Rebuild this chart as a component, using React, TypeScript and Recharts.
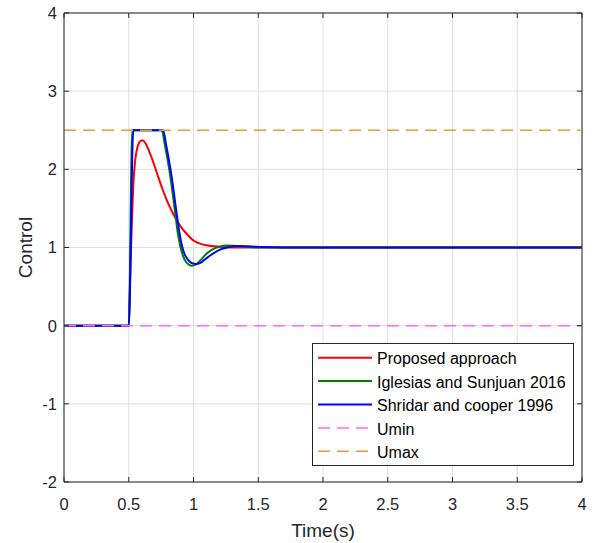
import React from 'react';
import {
  LineChart,
  Line,
  XAxis,
  YAxis,
  CartesianGrid,
  ReferenceLine
} from 'recharts';

// values
const timeTicks = [0, 0.5, 1, 1.5, 2, 2.5, 3, 3.5, 4];
const controlTicks = [-2, -1, 0, 1, 2, 3, 4];

const proposedTime = [0, 0.5, 0.51, 0.52, 0.53, 0.54, 0.55, 0.565, 0.58, 0.595, 0.61, 0.63, 0.66, 0.7, 0.73, 0.76, 0.8, 0.85, 0.9, 0.95, 1.0, 1.05, 1.1, 1.2, 1.3, 4];
const proposedControl = [0, 0, 0.55, 1.1, 1.6, 1.93, 2.12, 2.27, 2.34, 2.37, 2.37, 2.33, 2.22, 2.04, 1.89, 1.75, 1.58, 1.41, 1.27, 1.17, 1.09, 1.05, 1.03, 1.01, 1.0, 1.0];

const iglesiasTime = [0, 0.5, 0.527, 0.755, 0.78, 0.8, 0.82, 0.84, 0.86, 0.88, 0.9, 0.92, 0.94, 0.96, 0.986, 1.01, 1.05, 1.1, 1.15, 1.2, 1.26, 1.32, 1.4, 1.5, 1.6, 4];
const iglesiasControl = [0, 0, 2.5, 2.5, 2.3, 2.12, 1.92, 1.68, 1.42, 1.17, 1.0, 0.89, 0.82, 0.785, 0.767, 0.775, 0.83, 0.92, 0.98, 1.01, 1.025, 1.02, 1.01, 1.0, 1.0, 1.0];

const shridarTime = [0, 0.5, 0.535, 0.765, 0.79, 0.81, 0.83, 0.85, 0.87, 0.89, 0.91, 0.93, 0.95, 0.97, 0.995, 1.02, 1.05, 1.09, 1.14, 1.2, 1.26, 1.33, 1.42, 1.55, 1.7, 4];
const shridarControl = [0, 0, 2.5, 2.5, 2.3, 2.12, 1.92, 1.68, 1.43, 1.2, 1.03, 0.92, 0.86, 0.82, 0.795, 0.79, 0.8, 0.85, 0.91, 0.97, 1.0, 1.02, 1.015, 1.005, 1.0, 1.0];

const boundTime = [0, 4];
const uMin = 0;
const uMax = 2.5;

const zip = (t: number[], u: number[]) => t.map((v, i) => ({ t: v, u: u[i] }));

const series = [
  { name: 'Proposed approach', data: zip(proposedTime, proposedControl), color: '#ff0000', dash: undefined, width: 2 },
  { name: 'Iglesias and Sunjuan 2016', data: zip(iglesiasTime, iglesiasControl), color: '#008000', dash: undefined, width: 2 },
  { name: 'Shridar and cooper 1996', data: zip(shridarTime, shridarControl), color: '#0000ff', dash: undefined, width: 2 },
  { name: 'Umin', data: boundTime.map((t) => ({ t, u: uMin })), color: '#ff66ff', dash: '12 7', width: 1.5 },
  { name: 'Umax', data: boundTime.map((t) => ({ t, u: uMax })), color: '#e59a3f', dash: '12 7', width: 1.5 }
];

const W = 601;
const H = 543;
const P = { left: 64, top: 13, right: 582, bottom: 482 };
const INK = '#262626';
const FONT = '"Liberation Sans", Arial, Helvetica, sans-serif';

const XTick = (props: any) => {
  const { x, payload } = props;
  return (
    <g>
      <line x1={x} x2={x} y1={P.bottom} y2={P.bottom - 5} stroke={INK} />
      <line x1={x} x2={x} y1={P.top} y2={P.top + 5} stroke={INK} />
      <text x={x} y={509.5} textAnchor="middle" fontSize={16.5} fill={INK} fontFamily={FONT}>
        {payload.value}
      </text>
    </g>
  );
};

const YTick = (props: any) => {
  const { y, payload } = props;
  return (
    <g>
      <line x1={P.left} x2={P.left + 5} y1={y} y2={y} stroke={INK} />
      <line x1={P.right} x2={P.right - 5} y1={y} y2={y} stroke={INK} />
      <text x={57} y={y} dy="0.36em" textAnchor="end" fontSize={16.5} fill={INK} fontFamily={FONT}>
        {payload.value}
      </text>
    </g>
  );
};

const LegendBox = () => (
  <svg
    width={262}
    height={123}
    style={{ position: 'absolute', left: 312, top: 343 }}
  >
    <rect x={0.5} y={0.5} width={261} height={122} fill="#fff" stroke={INK} />
    {series.map((s, i) => {
      const cy = 14.7 + i * 23.4;
      return (
        <g key={s.name}>
          <line x1={6} x2={60} y1={cy} y2={cy} stroke={s.color} strokeWidth={s.width} strokeDasharray={s.dash} />
          <text x={65} y={cy + 6.6} fontSize={16} fill="#000" fontFamily={FONT}>
            {s.name}
          </text>
        </g>
      );
    })}
  </svg>
);

export default function App() {
  return (
    <div style={{ position: 'absolute', left: 0, top: 0, width: W, height: H, background: '#fff', fontFamily: FONT }}>
      <LineChart width={W} height={H} margin={{ top: P.top, right: W - P.right, bottom: 0, left: 0 }}>
        <CartesianGrid stroke="#dfdfdf" />
        <XAxis
          type="number"
          dataKey="t"
          domain={[0, 4]}
          ticks={timeTicks}
          height={H - P.bottom}
          tickSize={0}
          tickLine={false}
          axisLine={{ stroke: INK }}
          tick={<XTick />}
          interval={0}
          label={() => (
            <text x={(P.left + P.right) / 2} y={536.5} textAnchor="middle" fontSize={19} fill={INK} fontFamily={FONT}>
              Time(s)
            </text>
          )}
        />
        <YAxis
          type="number"
          domain={[-2, 4]}
          ticks={controlTicks}
          width={P.left}
          tickSize={0}
          tickLine={false}
          axisLine={{ stroke: INK }}
          tick={<YTick />}
          interval={0}
          label={() => (
            <text
              x={31.5}
              y={(P.top + P.bottom) / 2}
              textAnchor="middle"
              fontSize={19}
              fill={INK}
              fontFamily={FONT}
              transform={`rotate(-90, 31.5, ${(P.top + P.bottom) / 2})`}
            >
              Control
            </text>
          )}
        />
        <ReferenceLine y={4} stroke={INK} />
        <ReferenceLine x={4} stroke={INK} />
        {series.map((s) => (
          <Line
            key={s.name}
            data={s.data}
            dataKey="u"
            name={s.name}
            type={s.dash ? 'linear' : 'monotone'}
            stroke={s.color}
            strokeWidth={s.width}
            strokeDasharray={s.dash}
            dot={false}
            activeDot={false}
            isAnimationActive={false}
          />
        ))}
      </LineChart>
      <LegendBox />
    </div>
  );
}
